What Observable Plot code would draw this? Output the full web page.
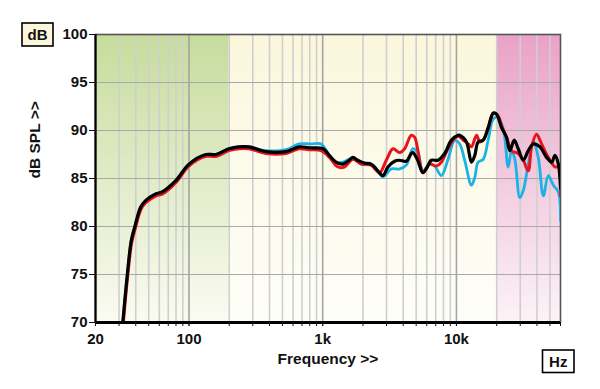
<!DOCTYPE html>
<html><head><meta charset="utf-8">
<script src="https://cdn.jsdelivr.net/npm/d3@7"></script>
<script src="https://cdn.jsdelivr.net/npm/@observablehq/plot@0.6"></script>
<style>body{margin:0;background:#fff;} svg{display:block}</style>
</head><body><div id="chart"></div>
<script>
// ---- data ----
const freqBlack = [32,34.6,37,39.4,43.5,47.4,56.4,63,80,100,134,159,199,236,281,376,531,665,790,1007,1122,1259,1413,1541,1680,1830,2052,2303,2587,2819,3075,3446,3757,4217,4596,4733,5096,5621,5954,6490,7283,8166,9166,10290,10580,11880,12940,13710,14530,15850,17270,18840,19950,21740,23680,25070,27050,28970,31610,34460,37570,42070,47210,51510,54560,57800,60000];
const splBlack = [70,75,78.5,80,82,82.7,83.4,83.6,84.8,86.5,87.5,87.5,88.1,88.3,88.3,87.8,87.8,88.3,88.2,88.1,87.4,86.7,86.5,86.8,87.2,86.9,86.6,86.5,85.8,85.3,86.2,86.8,86.9,86.8,87.6,87.7,87.0,85.6,86.0,86.9,86.9,87.6,89.0,89.5,89.5,88.8,86.7,87.4,88.8,89.0,90.3,91.8,91.7,90.3,89.3,87.9,89.0,88.1,86.9,87.9,88.6,88.3,87.2,86.7,87.4,86.5,84.0];

const freqRed = [32.3,34.9,37.3,39.7,43.8,47.8,56.8,63.5,80,100,134,159,199,236,281,376,531,665,790,973,1122,1297,1453,1680,1940,2303,2660,2987,3352,3757,4096,4596,4866,5155,5621,6306,7079,7711,8653,9441,10290,11220,12220,12940,14130,14950,15850,17270,18840,20530,21740,23680,25830,28970,31610,34460,36480,39730,43330,48630,54560,57800,60000];
const splRed = [70,75,78.3,79.8,81.8,82.5,83.2,83.4,84.6,86.3,87.3,87.3,87.9,88.1,88.1,87.6,87.6,88.1,88.0,87.9,87.2,86.2,86.2,87.0,86.5,86.4,85.6,86.9,88.1,87.7,88.1,89.5,89.3,87.9,85.6,86.5,86.3,86.7,88.1,89.0,89.4,89.0,88.6,88.3,89.5,88.8,89.0,90.2,91.8,91.5,90.5,89.3,87.9,87.6,86.9,85.8,88.3,89.6,88.6,87.2,86.2,86.2,83.2];

const freqBlue = [32,34.6,37,39.4,43.5,47.4,56.4,63,80,100,134,159,199,236,281,376,531,665,818,973,1122,1259,1413,1680,1940,2372,2819,3254,3757,4217,4733,5155,5621,6306,6873,7711,8653,9708,10580,11530,12940,13710,14530,15850,17270,18840,20290,22390,24380,25830,27350,29780,31610,34460,37570,40920,44640,48630,53070,57800,60000];
const splBlue = [70,75,78.5,80,82,82.7,83.4,83.6,84.8,86.5,87.5,87.5,88.1,88.3,88.3,87.9,88.0,88.6,88.6,88.6,87.4,86.7,86.7,87.1,86.5,86.4,85.2,86.0,86.0,86.4,88.1,87.6,85.8,86.5,86.3,85.3,87.0,89.0,88.6,86.9,84.3,85.1,86.7,87.0,89.0,91.2,91.4,90.2,86.2,87.9,87.0,83.0,83.75,86.5,88.8,87.2,83.2,85.3,84.3,83.6,80.6];

const bandFrom = [20, 200, 20000];
const bandTo = [200, 20000, 60000];

const xTickValues = [20, 100, 1000, 10000, 60000];
const xTickLabels = ["20", "100", "1k", "10k", "60k"];
const yTickValues = [70, 75, 80, 85, 90, 95, 100];
const minorFreqs = [30,40,50,60,70,80,90,200,300,400,500,600,700,800,900,2000,3000,4000,5000,6000,7000,8000,9000,20000,30000,40000,50000];
const majorFreqs = [100, 1000, 10000];
const yGrid = [75, 80, 85, 90, 95];

// ---- chart ----
const bandFills = ["url(#gGreen)", "url(#gCream)", "url(#gPink)"];
const font = "'Liberation Sans', Arial, sans-serif";

const chart = Plot.plot({
  width: 600, height: 389,
  marginLeft: 95, marginRight: 40, marginTop: 34, marginBottom: 67,
  style: {fontFamily: font, fontWeight: "bold", fontSize: "15px", color: "#111", background: "#fff"},
  x: {type: "log", domain: [20, 60000]},
  y: {domain: [70, 100]},
  marks: [
    Plot.rect(bandFrom.map((d, i) => i), {x1: i => bandFrom[i], x2: i => bandTo[i], y1: 70, y2: 100, fill: i => bandFills[i]}),
    Plot.ruleX(minorFreqs, {stroke: "#cfcfcf", strokeWidth: 1.6}),
    Plot.ruleX(majorFreqs, {stroke: "#a4a4a4", strokeWidth: 1.6}),
    Plot.ruleY(yGrid, {stroke: "#a8a8a8", strokeWidth: 1.2}),
    Plot.frame({stroke: "#555", strokeWidth: 1.6}),
    Plot.line(freqBlue, {x: freqBlue, y: splBlue, stroke: "#1cb2e6", strokeWidth: 2.8, curve: "catmull-rom", clip: true}),
    Plot.line(freqRed, {x: freqRed, y: splRed, stroke: "#e8141c", strokeWidth: 3, curve: "catmull-rom", clip: true}),
    Plot.line(freqBlack, {x: freqBlack, y: splBlack, stroke: "#000", strokeWidth: 3.2, curve: "catmull-rom", clip: true}),
    Plot.ruleY([70], {stroke: "#000", strokeWidth: 3}),
    Plot.ruleX([20], {stroke: "#000", strokeWidth: 2.2}),
    Plot.axisY({ticks: yTickValues, tickSize: 6, tickPadding: 2, tickFormat: d => String(d), fontSize: 15}),
    Plot.axisX({ticks: minorFreqs.concat(majorFreqs), tickSize: 4, tickFormat: () => ""}),
    Plot.axisX({ticks: xTickValues, tickSize: 4, tickPadding: 7, tickFormat: d => xTickLabels[xTickValues.indexOf(d)], fontSize: 15}),
    Plot.text(["Frequency >>"], {frameAnchor: "bottom", dy: 37, lineAnchor: "middle", fontSize: 15.5, fontWeight: "bold"}),
    Plot.text(["dB SPL >>"], {frameAnchor: "left", dx: -60, rotate: -90, lineAnchor: "middle", fontSize: 15.5, fontWeight: "bold"})
  ]
});

const svg = d3.select(chart);
const defs = svg.insert("defs", ":first-child");
function grad(id, top, bottom) {
  const g = defs.append("linearGradient").attr("id", id).attr("x1", 0).attr("y1", 0).attr("x2", 0).attr("y2", 1);
  g.append("stop").attr("offset", "0%").attr("stop-color", top);
  g.append("stop").attr("offset", "100%").attr("stop-color", bottom);
}
grad("gGreen", "#c6dc9c", "#fbfbf2");
grad("gCream", "#fbf7dc", "#fefef9");
grad("gPink", "#eaa2c7", "#fbf3f7");

function box(x, y, w, h, fill, label) {
  const g = svg.append("g");
  g.append("rect").attr("x", x).attr("y", y).attr("width", w).attr("height", h)
    .attr("fill", fill).attr("stroke", "#000").attr("stroke-width", 1.6);
  g.append("text").attr("x", x + w / 2).attr("y", y + h / 2).attr("dy", "0.35em")
    .attr("text-anchor", "middle").attr("font-family", font).attr("font-weight", "bold")
    .attr("font-size", 15).attr("fill", "#111").text(label);
}
box(22, 23, 31, 23, "#fbf6dc", "dB");
box(542.5, 350, 31.5, 22.5, "#fff", "Hz");

document.getElementById("chart").appendChild(chart);
</script></body></html>
